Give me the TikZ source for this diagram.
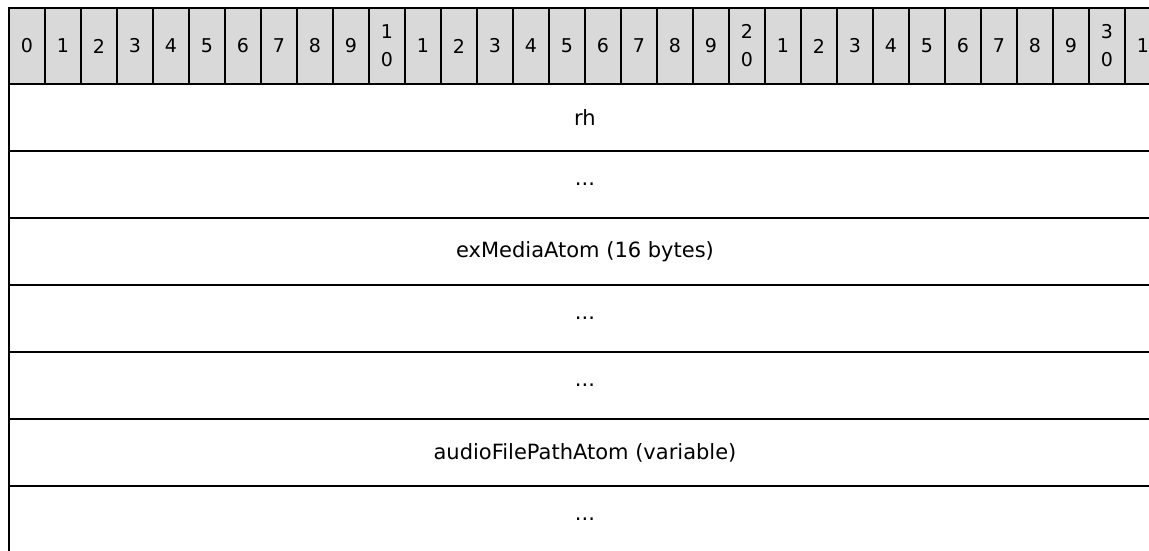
\documentclass[tikz,border=0pt]{standalone}
\usepackage{fontspec}
\setmainfont{DejaVu Sans}
\usetikzlibrary{positioning}
\definecolor{hdrgray}{RGB}{217,217,217}
\tikzset{
  bitcell/.style={draw=black, line width=1.8pt, fill=hdrgray, anchor=north west,
                  minimum width=36pt, minimum height=76pt, inner sep=0pt, outer sep=0pt,
                  align=center, font=\fontsize{19}{28}\selectfont},
  fieldrow/.style={draw=black, line width=1.8pt, minimum width=1152pt, minimum height=67pt,
                   inner sep=0pt, outer sep=0pt, font=\fontsize{21}{25}\selectfont},
}

\begin{document}
\begin{tikzpicture}[x=1pt, y=-1pt]
    \useasboundingbox (0,0) rectangle (1149,550);
    \clip (0,0) rectangle (1149,550);
    % bit ruler
    \foreach \i in {0,...,31} {
      \pgfmathtruncatemacro{\tens}{div(\i,10)}
      \pgfmathtruncatemacro{\ones}{mod(\i,10)}
      \ifnum\ones=0 \ifnum\tens>0
        \node[bitcell] (bit\i) at (9+36*\i, 8) {\tens\\0};
      \else
        \node[bitcell] (bit\i) at (9+36*\i, 8) {\ones};
      \fi \else
        \node[bitcell] (bit\i) at (9+36*\i, 8) {\ones};
      \fi
    }
    % fields
    \node[fieldrow, anchor=north west] (rh) at (9,84) {rh};
    \node[fieldrow, below=0pt of rh] (gapa) {...};
    \node[fieldrow, below=0pt of gapa] (exmedia) {exMediaAtom (16 bytes)};
    \node[fieldrow, below=0pt of exmedia] (gapb) {...};
    \node[fieldrow, below=0pt of gapb] (gapc) {...};
    \node[fieldrow, below=0pt of gapc] (audiopath) {audioFilePathAtom (variable)};
    \node[fieldrow, below=0pt of audiopath] (gapd) {...};
  \end{tikzpicture}
\end{document}
